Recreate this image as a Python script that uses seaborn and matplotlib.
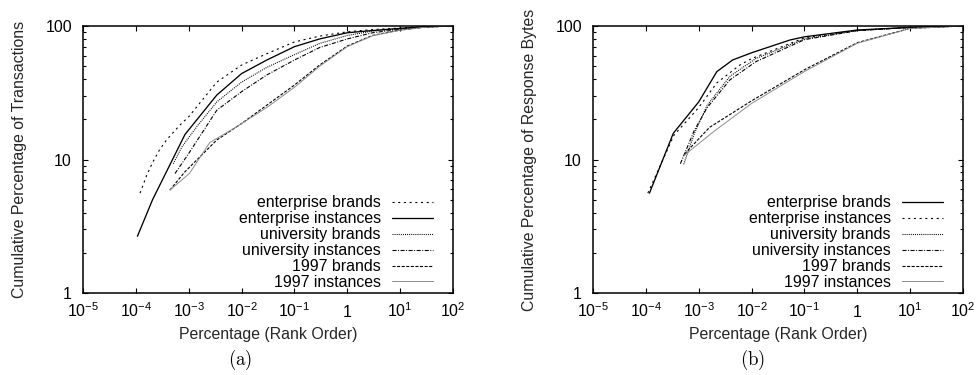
import numpy as np
import pandas as pd
import matplotlib
matplotlib.use("Agg")
import matplotlib.pyplot as plt
import seaborn as sns
from matplotlib.ticker import FixedLocator, NullLocator, LogLocator, FixedFormatter

# ---------------- data ----------------
series_names = ["enterprise brands", "enterprise instances", "university brands",
                "university instances", "1997 brands", "1997 instances"]

# Panel (a): cumulative percentage of transactions
a_ent_brands_x = [1.2e-4, 1.6e-4, 2.1e-4, 2.8e-4, 3.8e-4, 6.8e-4, 1e-3, 3.4e-3, 1e-2, 3e-2,
                  0.1, 0.3, 1, 3, 10, 30, 100]
a_ent_brands_y = [5.6, 7.6, 9.6, 11.8, 14, 18.1, 20.9, 38, 51, 62,
                  76, 84, 90.5, 94, 96.6, 99, 100]
a_ent_inst_x = [1.07e-4, 2.07e-4, 8.5e-4, 3.4e-3, 1e-2, 3e-2, 0.1, 0.3, 1, 3, 10, 30, 100]
a_ent_inst_y = [2.66, 5.0, 15.4, 30.4, 44, 55.6, 70, 80, 89, 92.5, 96, 98.8, 100]
a_univ_brands_x = [5.1e-4, 7.4e-4, 1.42e-3, 3.4e-3, 1e-2, 3e-2, 0.1, 0.3, 1, 3, 10, 30, 100]
a_univ_brands_y = [9.3, 12.4, 17.6, 27, 38, 49, 61, 74, 85, 91.5, 95.5, 98.8, 100]
a_univ_inst_x = [5.5e-4, 1e-3, 3.4e-3, 1e-2, 3e-2, 0.1, 0.3, 1, 3, 10, 30, 100]
a_univ_inst_y = [7.85, 11.1, 23.4, 32.2, 43, 55.6, 69, 80, 89, 94.4, 98.5, 100]
a_97_brands_x = [4.4e-4, 8.5e-4, 3.4e-3, 1e-2, 3e-2, 0.1, 0.3, 1, 3, 10, 30, 100]
a_97_brands_y = [5.9, 8.1, 14, 18.6, 25.5, 36.1, 51, 70.8, 85, 93.3, 98, 100]
a_97_inst_x = [4.4e-4, 1.03e-3, 2.5e-3, 7e-3, 3e-2, 0.1, 0.3, 1, 3, 10, 30, 100]
a_97_inst_y = [5.9, 7.85, 13.4, 17.0, 24.5, 34.7, 50, 70, 84.5, 93, 98, 100]

# Panel (b): cumulative percentage of response bytes
b_ent_brands_x = [1.17e-4, 3.3e-4, 1e-3, 2.2e-3, 4.4e-3, 1e-2, 5.3e-2, 0.1, 1, 10, 100]
b_ent_brands_y = [5.6, 15.7, 27, 45.5, 55.7, 63, 78.5, 83, 93.3, 97.7, 100]
b_ent_inst_x = [1.09e-4, 3.4e-4, 1e-3, 2.2e-3, 6e-3, 1e-2, 0.1, 1, 10, 100]
b_ent_inst_y = [5.6, 15.2, 24.5, 37.5, 51, 57, 81.5, 92.8, 97.7, 100]
b_univ_brands_x = [5.2e-4, 8.3e-4, 1.45e-3, 3.9e-3, 1.2e-2, 0.1, 1, 10, 100]
b_univ_brands_y = [9.2, 15.7, 25.5, 42, 57, 80, 92.5, 97.5, 100]
b_univ_inst_x = [4.5e-4, 8.3e-4, 1.45e-3, 3.9e-3, 1.2e-2, 0.1, 1, 10, 100]
b_univ_inst_y = [9.3, 16.6, 24.5, 39.5, 54, 79, 92.3, 97.5, 100]
b_97_brands_x = [5.4e-4, 1.6e-3, 1e-2, 0.1, 1, 10, 100]
b_97_brands_y = [11, 17.4, 27.5, 47, 75, 96, 100]
b_97_inst_x = [5.4e-4, 2e-3, 1e-2, 0.1, 1, 10, 100]
b_97_inst_y = [10.8, 16.4, 26.3, 45.6, 74.3, 95.8, 100]

x_tick_values = [1e-5, 1e-4, 1e-3, 1e-2, 1e-1, 1, 10, 100]
x_tick_labels = [r"$10^{-5}$", r"$10^{-4}$", r"$10^{-3}$", r"$10^{-2}$",
                 r"$10^{-1}$", r"$1$", r"$10^{1}$", r"$10^{2}$"]
y_tick_values = [1, 10, 100]
y_tick_labels = ["1", "10", "100"]

y_labels = ["Cumulative Percentage of Transactions",
            "Cumulative Percentage of Response Bytes"]
x_label = "Percentage (Rank Order)"
captions = [r"$\mathrm{(a)}$", r"$\mathrm{(b)}$"]

# ---------------- styles ----------------
sns.set_style("ticks")
plt.rcParams["font.family"] = ["Liberation Sans", "DejaVu Sans"]
plt.rcParams["mathtext.fontset"] = "custom"
plt.rcParams["mathtext.rm"] = "Liberation Sans"
plt.rcParams["mathtext.it"] = "Liberation Sans:italic"
plt.rcParams["mathtext.bf"] = "Liberation Sans:bold"
plt.rcParams["lines.scale_dashes"] = False
plt.rcParams["axes.edgecolor"] = "black"
plt.rcParams["text.color"] = "black"
plt.rcParams["xtick.color"] = "black"
plt.rcParams["ytick.color"] = "black"

FS = 11.4

sparse = dict(color="black", lw=0.8, ls=(0, (1.5, 2.6)))
solid = dict(color="black", lw=0.95, ls="-")
dotted = dict(color="black", lw=0.8, ls=(0, (0.7, 0.8)))
dashdot = dict(color="black", lw=0.8, ls=(0, (2.9, 1.1, 0.7, 1.1)))
dashed = dict(color="black", lw=0.8, ls=(0, (2.2, 1.1)))
grey = dict(color="#8c8c8c", lw=0.7, ls="-")

panels = [
    dict(series=[(a_ent_brands_x, a_ent_brands_y), (a_ent_inst_x, a_ent_inst_y),
                 (a_univ_brands_x, a_univ_brands_y), (a_univ_inst_x, a_univ_inst_y),
                 (a_97_brands_x, a_97_brands_y), (a_97_inst_x, a_97_inst_y)],
         styles=[sparse, solid, dotted, dashdot, dashed, grey],
         left=83, caption_x=240),
    dict(series=[(b_ent_brands_x, b_ent_brands_y), (b_ent_inst_x, b_ent_inst_y),
                 (b_univ_brands_x, b_univ_brands_y), (b_univ_inst_x, b_univ_inst_y),
                 (b_97_brands_x, b_97_brands_y), (b_97_inst_x, b_97_inst_y)],
         styles=[solid, sparse, dotted, dashdot, dashed, grey],
         left=593, caption_x=753),
]

W, H = 977, 375
fig = plt.figure(figsize=(W / 100, H / 100), dpi=100)

ax_w, ax_top, ax_bot = 370, 26, 293

for i, p in enumerate(panels):
    ax = fig.add_axes([p["left"] / W, (H - ax_bot) / H, ax_w / W, (ax_bot - ax_top) / H])
    ax.set_xscale("log")
    ax.set_yscale("log")
    for name, (xs, ys), st in zip(series_names, p["series"], p["styles"]):
        df = pd.DataFrame({"x": xs, "y": ys})
        sns.lineplot(data=df, x="x", y="y", ax=ax, label=name,
                     color=st["color"], lw=st["lw"], linestyle=st["ls"])
    ax.set_xlim(1e-5, 100)
    ax.set_ylim(1, 100)
    ax.xaxis.set_major_locator(FixedLocator(x_tick_values))
    ax.xaxis.set_major_formatter(FixedFormatter(x_tick_labels))
    ax.xaxis.set_minor_locator(NullLocator())
    ax.yaxis.set_major_locator(FixedLocator(y_tick_values))
    ax.yaxis.set_major_formatter(FixedFormatter(y_tick_labels))
    ax.yaxis.set_minor_locator(LogLocator(base=10, subs=np.arange(2, 10)))
    ax.yaxis.set_minor_formatter(FixedFormatter([]))
    ax.tick_params(which="both", direction="in", top=True, right=True,
                   labelsize=FS, width=0.8)
    ax.tick_params(which="major", length=3.6)
    ax.tick_params(which="minor", length=1.9)
    ax.tick_params(axis="y", pad=8)
    ax.tick_params(axis="x", pad=17.5)
    for t in ax.get_xticklabels():
        t.set_va("baseline")
    for s in ax.spines.values():
        s.set_linewidth(1.1)
        s.set_visible(True)
    ax.set_xlabel(x_label, fontsize=FS, labelpad=4.5)
    ax.set_ylabel(y_labels[i], fontsize=FS, labelpad=13)
    leg = ax.legend(loc="lower right", bbox_to_anchor=(1 - 20 / ax_w, 3 / 267),
                    frameon=False, markerfirst=False, fontsize=FS,
                    handlelength=2.6, handletextpad=0.7, labelspacing=0.06,
                    borderpad=0, borderaxespad=0)
    fig.text(p["caption_x"] / W, 1 - 360 / H, captions[i], ha="center", va="center",
             fontsize=13.5, math_fontfamily="cm")

fig.savefig("out.png", dpi=100)
